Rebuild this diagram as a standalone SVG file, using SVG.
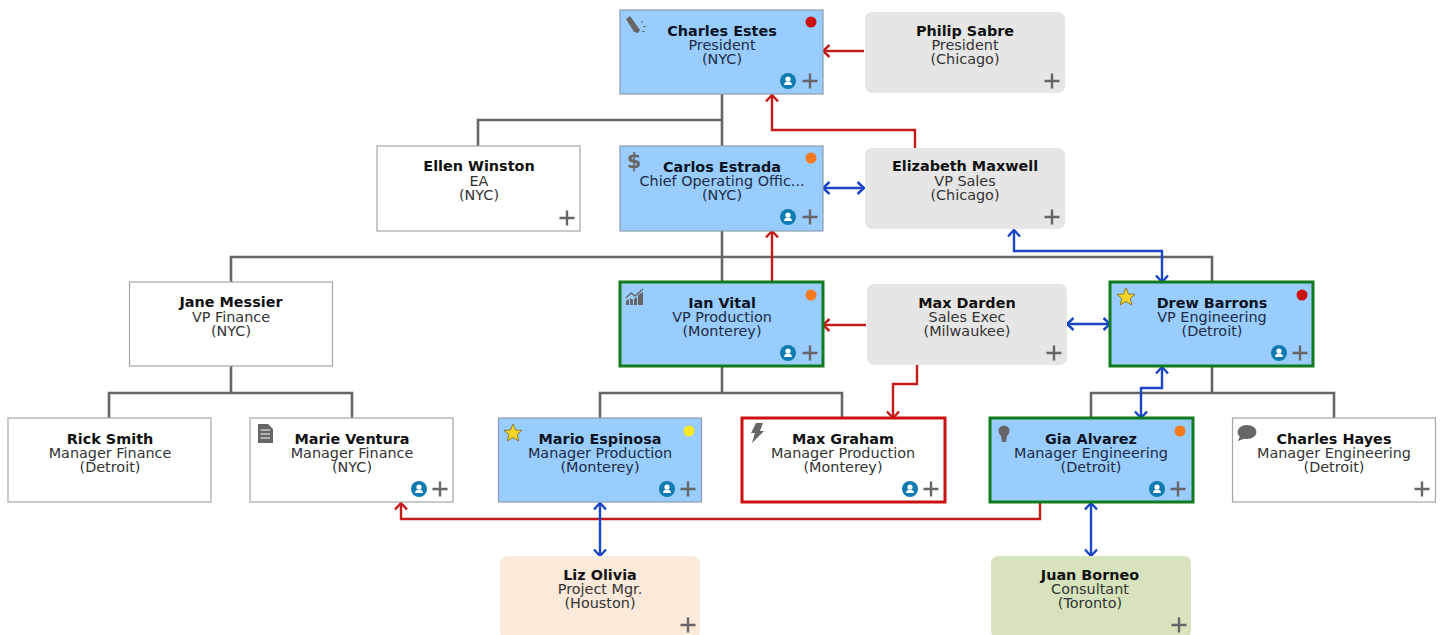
<svg xmlns="http://www.w3.org/2000/svg" width="1444" height="635" viewBox="0 0 1444 635">
<style>
text{font-family:"DejaVu Sans",sans-serif;font-size:14.400px;text-anchor:middle;fill:#333}
.t{font-weight:bold;fill:#111}
.b text{fill:#1c2b45}.b .t{fill:#0c1422}
.w{fill:#fff;stroke:#a6a6a6;stroke-width:1.2}
.bl{fill:#99ccff;stroke:#8c9cae;stroke-width:1.2}
.gb{fill:#99ccff;stroke:#117a1c;stroke-width:3}
.rb{fill:#fff;stroke:#cc1111;stroke-width:3}
.g{fill:#e6e6e6}
.pl{stroke:#666;stroke-width:2.4;fill:none}
.ln{fill:none;stroke:#666;stroke-width:2.6}
.r{fill:none;stroke:#c41a1a;stroke-width:2.4}
.u{fill:none;stroke:#1a45c4;stroke-width:2.4}
.ic{fill:#666}
</style>
<defs>
<marker id="ar" viewBox="0 0 12 14" refX="10.5" refY="7" markerWidth="12" markerHeight="14" markerUnits="userSpaceOnUse" orient="auto-start-reverse"><path d="M4 1L10.500 7L4 13" fill="none" stroke="#c41a1a" stroke-width="2.4"/></marker>
<marker id="ab" viewBox="0 0 12 14" refX="10.5" refY="7" markerWidth="12" markerHeight="14" markerUnits="userSpaceOnUse" orient="auto-start-reverse"><path d="M4 1L10.500 7L4 13" fill="none" stroke="#1a45c4" stroke-width="2.4"/></marker>
<g id="plus"><path class="pl" d="M-7.500 0H7.500M0-7.500V7.500"/></g>
<g id="user"><circle r="8" fill="#0f7bb0"/><circle cy="-2" r="2.600" fill="#fff"/><path d="M-4 4Q-4 0.500 0 0.500Q4 0.500 4 4Z" fill="#fff"/></g>
<polygon id="star" points="0,-9 2.600,-3 9,-2.600 4.200,1.600 5.800,8 0,4.500 -5.800,8 -4.200,1.600 -9,-2.600 -2.600,-3" fill="#f5d327" stroke="#7a6a1a" stroke-width="0.800"/>
</defs>
<g id="connectors">
<path class="ln" d="M722 94V146M478 146V120H722M722 231V282M231 282V257H1212V282M231 366V393M109 418V393H352V418M722 366V393M600 418V393H842V418M1212 366V393M1091 418V393H1334V418"/>
<path class="r" marker-end="url(#ar)" d="M864 51H823"/>
<path class="r" marker-end="url(#ar)" d="M915 148V130H772V95"/>
<path class="r" marker-end="url(#ar)" d="M772 282V231"/>
<path class="r" marker-end="url(#ar)" d="M866 325H823"/>
<path class="r" marker-end="url(#ar)" d="M917 365V384H893V418"/>
<path class="r" marker-end="url(#ar)" d="M1040 503V519H401V503"/>
<path class="u" marker-start="url(#ab)" marker-end="url(#ab)" d="M823 188H864"/>
<path class="u" marker-start="url(#ab)" marker-end="url(#ab)" d="M1014 230V251H1162V282"/>
<path class="u" marker-start="url(#ab)" marker-end="url(#ab)" d="M1067 324H1110"/>
<path class="u" marker-start="url(#ab)" marker-end="url(#ab)" d="M1162 367V388H1141V418"/>
<path class="u" marker-start="url(#ab)" marker-end="url(#ab)" d="M600 503V556"/>
<path class="u" marker-start="url(#ab)" marker-end="url(#ab)" d="M1091 503V556"/>
</g>
<g id="n-charles-estes" class="b"><rect class="bl" x="620" y="10" width="203" height="84"/><text class="t" x="722" y="36">Charles Estes</text><text x="722" y="50">President</text><text x="722" y="64">(NYC)</text>
<path class="ic" d="M626 19L630 16L640 30L638 33L634 32Z"/><path d="M641 23l2-2M643 27l3-1M642 31l3 1" stroke="#666" fill="none"/>
<circle cx="811" cy="22" r="5.500" fill="#cc1111"/><use href="#user" x="788" y="81"/><use href="#plus" x="810" y="81"/></g>
<g id="n-philip-sabre"><rect class="g" x="865" y="12" width="200" height="81" rx="7"/><text class="t" x="965" y="36">Philip Sabre</text><text x="965" y="50">President</text><text x="965" y="64">(Chicago)</text><use href="#plus" x="1052" y="81"/></g>
<g id="n-ellen-winston"><rect class="w" x="377" y="146" width="203" height="85"/><text class="t" x="479" y="171">Ellen Winston</text><text x="479" y="186">EA</text><text x="479" y="200">(NYC)</text><use href="#plus" x="567" y="218"/></g>
<g id="n-carlos-estrada" class="b"><rect class="bl" x="620" y="146" width="203" height="85"/><text class="t" x="722" y="172">Carlos Estrada</text><text x="722" y="186">Chief Operating Offic...</text><text x="722" y="200">(NYC)</text>
<text x="634" y="168" style="font-size:21px;font-weight:bold;fill:#666">$</text>
<circle cx="811" cy="158" r="5.500" fill="#f47a1f"/><use href="#user" x="788" y="217"/><use href="#plus" x="810" y="217"/></g>
<g id="n-elizabeth-maxwell"><rect class="g" x="865" y="148" width="200" height="81" rx="7"/><text class="t" x="965" y="171">Elizabeth Maxwell</text><text x="965" y="186">VP Sales</text><text x="965" y="200">(Chicago)</text><use href="#plus" x="1052" y="217"/></g>
<g id="n-jane-messier"><rect class="w" x="129.500" y="282" width="203" height="84"/><text class="t" x="231" y="307">Jane Messier</text><text x="231" y="322">VP Finance</text><text x="231" y="336">(NYC)</text></g>
<g id="n-ian-vital" class="b"><rect class="gb" x="620" y="282" width="203" height="84"/><text class="t" x="722" y="308">Ian Vital</text><text x="722" y="322">VP Production</text><text x="722" y="336">(Monterey)</text>
<path class="ic" d="M626 305V301L629 299V305ZM630 305V298L633 300V305ZM634 305V299L637 297V305ZM638 305V295L643 292V305Z"/><path d="M626 298L631 293L635 296L643 289" stroke="#666" stroke-width="1.400" fill="none"/>
<circle cx="811" cy="295" r="5.500" fill="#f47a1f"/><use href="#user" x="788" y="353"/><use href="#plus" x="810" y="353"/></g>
<g id="n-max-darden"><rect class="g" x="867" y="284" width="200" height="81" rx="7"/><text class="t" x="967" y="308">Max Darden</text><text x="967" y="322">Sales Exec</text><text x="967" y="336">(Milwaukee)</text><use href="#plus" x="1054" y="353"/></g>
<g id="n-drew-barrons" class="b"><rect class="gb" x="1110" y="282" width="203" height="84"/><text class="t" x="1212" y="308">Drew Barrons</text><text x="1212" y="322">VP Engineering</text><text x="1212" y="336">(Detroit)</text>
<use href="#star" x="1126" y="297"/><circle cx="1302" cy="295" r="5.500" fill="#cc1111"/><use href="#user" x="1279" y="353"/><use href="#plus" x="1300" y="353"/></g>
<g id="n-rick-smith"><rect class="w" x="8" y="418" width="203" height="84"/><text class="t" x="110" y="444">Rick Smith</text><text x="110" y="458">Manager Finance</text><text x="110" y="472">(Detroit)</text></g>
<g id="n-marie-ventura"><rect class="w" x="250" y="418" width="203" height="84"/><text class="t" x="352" y="444">Marie Ventura</text><text x="352" y="458">Manager Finance</text><text x="352" y="472">(NYC)</text>
<path class="ic" d="M258 424H268L273 429V443H258Z"/><path d="M260.500 430H270M260.500 434H270M260.500 438H270" stroke="#fff"/>
<use href="#user" x="419" y="489"/><use href="#plus" x="440" y="489"/></g>
<g id="n-mario-espinosa" class="b"><rect class="bl" x="498.500" y="418" width="203" height="84"/><text class="t" x="600" y="444">Mario Espinosa</text><text x="600" y="458">Manager Production</text><text x="600" y="472">(Monterey)</text>
<use href="#star" x="513" y="433"/><circle cx="689" cy="431" r="5.500" fill="#f5e627"/><use href="#user" x="667" y="489"/><use href="#plus" x="688" y="489"/></g>
<g id="n-max-graham"><rect class="rb" x="742" y="418" width="203" height="84"/><text class="t" x="843" y="444">Max Graham</text><text x="843" y="458">Manager Production</text><text x="843" y="472">(Monterey)</text>
<path class="ic" d="M756 423H763L760 431H764L752 443L755 433H751Z"/>
<use href="#user" x="910" y="489"/><use href="#plus" x="931" y="489"/></g>
<g id="n-gia-alvarez" class="b"><rect class="gb" x="990" y="418" width="203" height="84"/><text class="t" x="1091" y="444">Gia Alvarez</text><text x="1091" y="458">Manager Engineering</text><text x="1091" y="472">(Detroit)</text>
<circle cx="1004" cy="431" r="5.500" class="ic"/><path class="ic" d="M1000.500 434H1007.500L1006 442H1002Z"/>
<circle cx="1180" cy="431" r="5.500" fill="#f47a1f"/><use href="#user" x="1157" y="489"/><use href="#plus" x="1178" y="489"/></g>
<g id="n-charles-hayes"><rect class="w" x="1232.500" y="418" width="203" height="84"/><text class="t" x="1334" y="444">Charles Hayes</text><text x="1334" y="458">Manager Engineering</text><text x="1334" y="472">(Detroit)</text>
<ellipse cx="1247" cy="432" rx="9.500" ry="7" class="ic"/><path class="ic" d="M1240 436L1238 441L1246 438Z"/>
<use href="#plus" x="1422" y="489"/></g>
<g id="n-liz-olivia"><rect fill="#fbe9da" x="500" y="556" width="200" height="82" rx="7"/><text class="t" x="600" y="580">Liz Olivia</text><text x="600" y="594">Project Mgr.</text><text x="600" y="608">(Houston)</text><use href="#plus" x="688" y="625"/></g>
<g id="n-juan-borneo"><rect fill="#d7e3bc" x="991" y="556" width="200" height="82" rx="7"/><text class="t" x="1090" y="580">Juan Borneo</text><text x="1090" y="594">Consultant</text><text x="1090" y="608">(Toronto)</text><use href="#plus" x="1179" y="625"/></g>
</svg>
